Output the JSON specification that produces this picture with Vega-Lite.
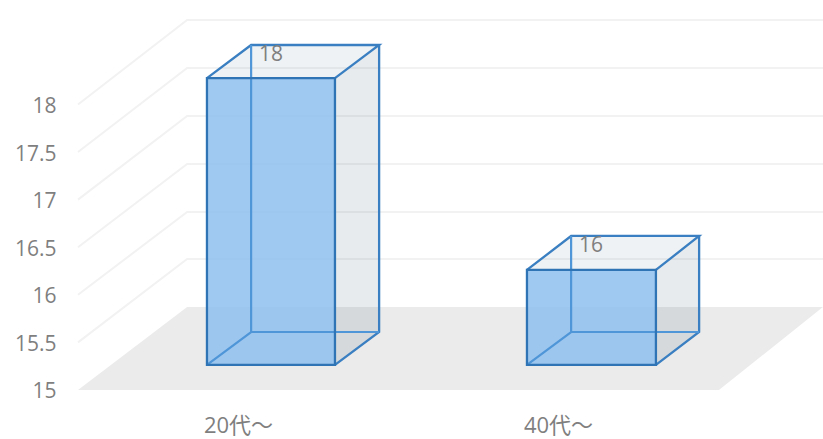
{"$schema":"https://vega.github.io/schema/vega-lite/v6.json","autosize":{"type":"none"},"padding":0,"width":823,"height":439,"background":"white","config":{"view":{"stroke":null},"font":"Open Sans"},
"datasets":{
"floor":[{"x":0,"x2":2.003,"y":15},{"x":0.341,"x2":2.328,"y":15.872}],
"grid":[{"level":15.5,"seq":0,"x":0,"y":15.5},{"level":15.5,"seq":1,"x":0.341,"y":16.376},{"level":15.5,"seq":2,"x":2.328,"y":16.376},
{"level":16,"seq":0,"x":0,"y":16},{"level":16,"seq":1,"x":0.341,"y":16.87},{"level":16,"seq":2,"x":2.328,"y":16.87},
{"level":16.5,"seq":0,"x":0,"y":16.5},{"level":16.5,"seq":1,"x":0.341,"y":17.374},{"level":16.5,"seq":2,"x":2.328,"y":17.374},
{"level":17,"seq":0,"x":0,"y":17},{"level":17,"seq":1,"x":0.341,"y":17.878},{"level":17,"seq":2,"x":2.328,"y":17.878},
{"level":17.5,"seq":0,"x":0,"y":17.5},{"level":17.5,"seq":1,"x":0.341,"y":18.382},{"level":17.5,"seq":2,"x":2.328,"y":18.382},
{"level":18,"seq":0,"x":0,"y":18},{"level":18,"seq":1,"x":0.341,"y":18.887},{"level":18,"seq":2,"x":2.328,"y":18.887}],
"top":[{"bar":"a","x":0.403,"x2":0.803,"y":18.277},{"bar":"a","x":0.541,"x2":0.941,"y":18.624},{"bar":"b","x":1.403,"x2":1.806,"y":16.261},{"bar":"b","x":1.541,"x2":1.941,"y":16.618}],
"right":[{"bar":"a","x":0.803,"y":15.263,"y2":18.277},{"bar":"a","x":0.941,"y":15.609,"y2":18.624},{"bar":"b","x":1.806,"y":15.263,"y2":16.261},{"bar":"b","x":1.941,"y":15.609,"y2":16.618}],
"front":[{"bar":"a","x":0.403,"x2":0.803,"y":15.263,"y2":18.277},{"bar":"b","x":1.403,"x2":1.806,"y":15.263,"y2":16.261}],
"inner":[{"edge":"a1","seq":0,"x":0.541,"y":18.624},{"edge":"a1","seq":1,"x":0.541,"y":15.609},{"edge":"a2","seq":0,"x":0.403,"y":15.263},{"edge":"a2","seq":1,"x":0.541,"y":15.609},{"edge":"a2","seq":2,"x":0.941,"y":15.609},
{"edge":"b1","seq":0,"x":1.541,"y":16.618},{"edge":"b1","seq":1,"x":1.541,"y":15.609},{"edge":"b2","seq":0,"x":1.403,"y":15.263},{"edge":"b2","seq":1,"x":1.541,"y":15.609},{"edge":"b2","seq":2,"x":1.941,"y":15.609}],
"outer":[{"edge":"a3","seq":0,"x":0.403,"y":18.277},{"edge":"a3","seq":1,"x":0.541,"y":18.624},{"edge":"a3","seq":2,"x":0.941,"y":18.624},{"edge":"a3","seq":3,"x":0.803,"y":18.277},
{"edge":"a4","seq":0,"x":0.941,"y":18.624},{"edge":"a4","seq":1,"x":0.941,"y":15.609},{"edge":"a4","seq":2,"x":0.803,"y":15.263},
{"edge":"b3","seq":0,"x":1.403,"y":16.261},{"edge":"b3","seq":1,"x":1.541,"y":16.618},{"edge":"b3","seq":2,"x":1.941,"y":16.618},{"edge":"b3","seq":3,"x":1.806,"y":16.261},
{"edge":"b4","seq":0,"x":1.941,"y":16.618},{"edge":"b4","seq":1,"x":1.941,"y":15.609},{"edge":"b4","seq":2,"x":1.806,"y":15.263}],
"labels":[{"label":"18","x":0.603,"y":18.52},{"label":"16","x":1.603,"y":16.515}]
},
"layer":[
{"data":{"name":"floor"},"mark":{"type":"area","orient":"horizontal","color":"#EBEBEB"},"encoding":{
"x":{"field":"x","type":"quantitative","scale":{"domain":[-0.24375,2.328125],"nice":false,"zero":false},"axis":{"values":[0.5,1.5],"title":null,"orient":"bottom","offset":-14,"domain":false,"ticks":false,"grid":false,"labelPadding":0,"labelBaseline":"middle","labelFontSize":22,"labelColor":"#7F7F7F","labelFont":"Open Sans, Noto Sans CJK JP","labelFlush":false,"labelOverlap":false,"labelExpr":"datum.value < 1 ? '20代〜' : '40代〜'"}},
"x2":{"field":"x2"},
"y":{"field":"y","type":"quantitative","scale":{"domain":[14.485,19.097],"nice":false,"zero":false},"axis":{"values":[15,15.5,16,16.5,17,17.5,18],"title":null,"orient":"left","offset":-56,"domain":false,"ticks":false,"grid":false,"labelPadding":0,"labelOffset":2,"labelFontSize":21,"labelColor":"#7F7F7F","labelFont":"Open Sans","labelFlush":false,"labelOverlap":false,"format":"~g"}}}},
{"data":{"name":"grid"},"mark":{"type":"line","color":"#F2F2F2","strokeWidth":2},"encoding":{"x":{"field":"x","type":"quantitative"},"y":{"field":"y","type":"quantitative"},"detail":{"field":"level"},"order":{"field":"seq"}}},
{"data":{"name":"right"},"mark":{"type":"area","orient":"vertical","color":"#44687F","opacity":0.13},"encoding":{"x":{"field":"x","type":"quantitative"},"y":{"field":"y","type":"quantitative"},"y2":{"field":"y2"},"detail":{"field":"bar"}}},
{"data":{"name":"top"},"mark":{"type":"area","orient":"horizontal","color":"#44687F","opacity":0.085},"encoding":{"y":{"field":"y","type":"quantitative"},"x":{"field":"x","type":"quantitative"},"x2":{"field":"x2"},"detail":{"field":"bar"}}},
{"data":{"name":"outer"},"mark":{"type":"line","color":"#3A7FC1","strokeWidth":2.3},"encoding":{"x":{"field":"x","type":"quantitative"},"y":{"field":"y","type":"quantitative"},"detail":{"field":"edge"},"order":{"field":"seq"}}},
{"data":{"name":"labels"},"mark":{"type":"text","color":"#7F7F7F","fontSize":21,"font":"Open Sans"},"encoding":{"x":{"field":"x","type":"quantitative"},"y":{"field":"y","type":"quantitative"},"text":{"field":"label"}}},
{"data":{"name":"front"},"mark":{"type":"rect","color":"#8FC0EE","opacity":0.85,"stroke":null},"encoding":{"x":{"field":"x","type":"quantitative"},"x2":{"field":"x2"},"y":{"field":"y","type":"quantitative"},"y2":{"field":"y2"}}},
{"data":{"name":"inner"},"mark":{"type":"line","color":"#4F96D8","strokeWidth":2.2},"encoding":{"x":{"field":"x","type":"quantitative"},"y":{"field":"y","type":"quantitative"},"detail":{"field":"edge"},"order":{"field":"seq"}}},
{"data":{"name":"front"},"mark":{"type":"rect","fillOpacity":0,"stroke":"#2F75B5","strokeWidth":2.3},"encoding":{"x":{"field":"x","type":"quantitative"},"x2":{"field":"x2"},"y":{"field":"y","type":"quantitative"},"y2":{"field":"y2"}}}
]}
